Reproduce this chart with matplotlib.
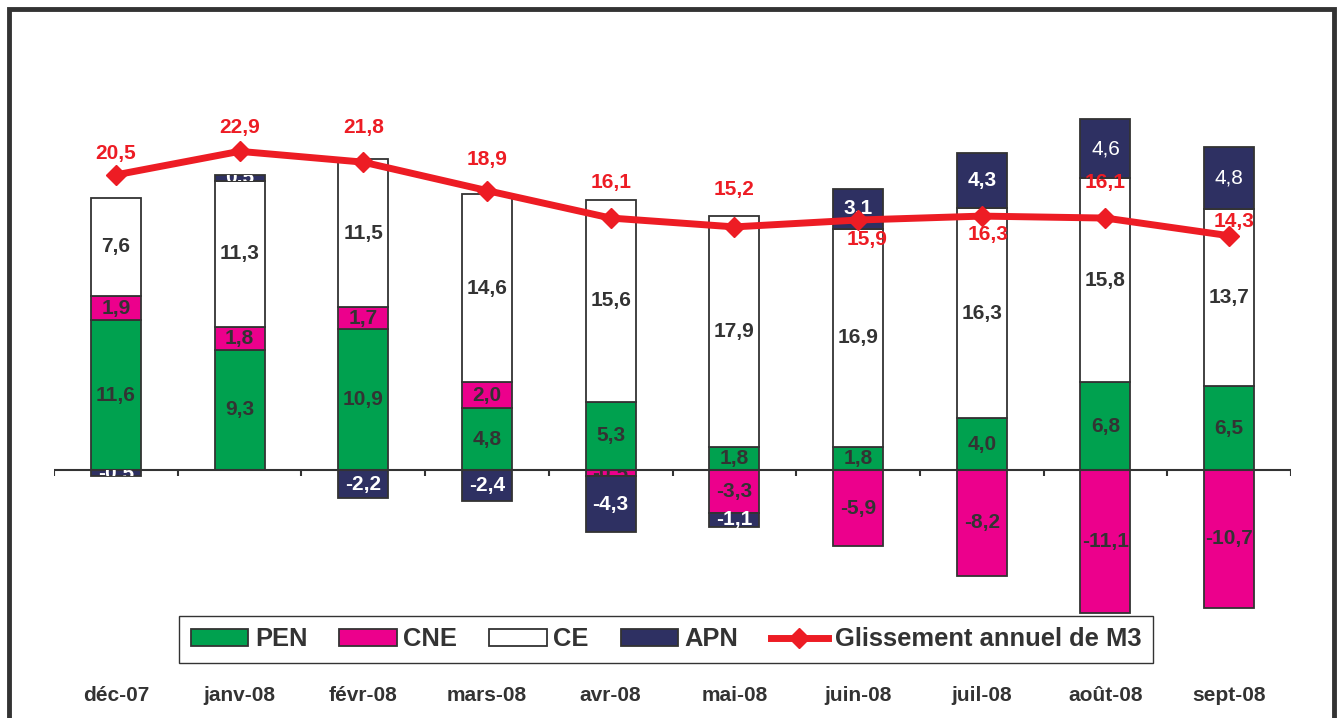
import matplotlib
matplotlib.use('Agg')
import matplotlib.pyplot as plt
from matplotlib.patches import Rectangle, Patch
from matplotlib.lines import Line2D
import numpy as np

plt.rcParams['font.family'] = ['Liberation Sans', 'DejaVu Sans']

# ---------------- data ----------------
months = ['déc-07', 'janv-08', 'févr-08', 'mars-08', 'avr-08',
          'mai-08', 'juin-08', 'juil-08', 'août-08', 'sept-08']
pen = [11.6, 9.3, 10.9, 4.8, 5.3, 1.8, 1.8, 4.0, 6.8, 6.5]
cne = [1.9, 1.8, 1.7, 2.0, -0.5, -3.3, -5.9, -8.2, -11.1, -10.7]
ce = [7.6, 11.3, 11.5, 14.6, 15.6, 17.9, 16.9, 16.3, 15.8, 13.7]
apn = [-0.5, 0.5, -2.2, -2.4, -4.3, -1.1, 3.1, 4.3, 4.6, 4.8]
m3 = [20.5, 22.9, 21.8, 18.9, 16.1, 15.2, 15.9, 16.3, 16.1, 14.3]

# label offsets for the M3 line labels (pixels: dx, dy; dy negative = above)
m3_label_off = [(0, -21), (0, -24), (0, -35), (0, -31), (0, -36),
                (0, -37), (9, 19), (6, 18), (0, -36), (5, -14)]

# ---------------- styles ----------------
C_PEN = '#00A14F'
C_CNE = '#EC008C'
C_CE = '#FFFFFF'
C_APN = '#2E3062'
C_RED = '#ED1C24'
C_DARK = '#333333'

W, H = 1340, 718
fig = plt.figure(figsize=(W / 100, H / 100), dpi=100)
fig.patch.set_facecolor('white')

ax_left, ax_right = 54, 1291
ax_top, ax_bot = 20, 680
ax = fig.add_axes([ax_left / W, (H - ax_bot) / H,
                   (ax_right - ax_left) / W, (ax_bot - ax_top) / H])
ax.set_xlim(-0.5, len(months) - 0.5)
ax.set_ylim(-16.28, 34.88)

x = np.arange(len(months))
bw = 0.404

pos_base = np.zeros(len(months))
neg_base = np.zeros(len(months))
series = [('PEN', pen, C_PEN), ('CNE', cne, C_CNE), ('CE', ce, C_CE), ('APN', apn, C_APN)]
for name, vals, col in series:
    vals = np.array(vals, dtype=float)
    bottoms = np.where(vals >= 0, pos_base, neg_base)
    bars = ax.bar(x, vals, bottom=bottoms, width=bw, color=col,
                  edgecolor=C_DARK, linewidth=1.3, zorder=2)
    for i, (b, v) in enumerate(zip(bars, vals)):
        txt = f"{v:.1f}".replace('.', ',')
        tcol = 'white' if name == 'APN' else C_DARK
        weight = 'normal' if (name == 'APN' and i >= 8) else 'bold'
        t = ax.text(x[i], bottoms[i] + v / 2, txt, ha='center', va='center',
                    fontsize=15, fontweight=weight, color=tcol, zorder=4)
        if abs(v) < 1.0:
            t.set_clip_on(True)
            t.set_clip_path(b)
    pos_base = np.where(vals >= 0, pos_base + vals, pos_base)
    neg_base = np.where(vals < 0, neg_base + vals, neg_base)

# zero axis line and category ticks
ax.axhline(0, color=C_DARK, lw=1.5, zorder=3)
ax.vlines(np.arange(-0.5, len(months)), -0.45, 0, color=C_DARK, lw=1.5, zorder=3)

ax.set_xticks(x)
ax.set_xticklabels(months, fontsize=15, fontweight='bold', color=C_DARK)
ax.tick_params(axis='x', length=0, pad=4)
ax.set_yticks([])
for s in ax.spines.values():
    s.set_visible(False)

# secondary axis for M3 line
ax2 = ax.twinx()
ax2.set_ylim(-30.99, 36.29)
ax2.plot(x, m3, color=C_RED, lw=5, marker='D', markersize=10,
         markeredgecolor=C_RED, zorder=5)
for i, v in enumerate(m3):
    dx, dy = m3_label_off[i]
    ax2.annotate(f"{v:.1f}".replace('.', ','), (x[i], v),
                 xytext=(dx * 0.72, -dy * 0.72), textcoords='offset points',
                 ha='center', va='center', fontsize=15, fontweight='bold',
                 color=C_RED, zorder=6)
ax2.set_yticks([])
for s in ax2.spines.values():
    s.set_visible(False)

# legend
handles = [Patch(facecolor=C_PEN, edgecolor=C_DARK, lw=1.3),
           Patch(facecolor=C_CNE, edgecolor=C_DARK, lw=1.3),
           Patch(facecolor=C_CE, edgecolor=C_DARK, lw=1.3),
           Patch(facecolor=C_APN, edgecolor=C_DARK, lw=1.3),
           Line2D([], [], color=C_RED, lw=5, marker='D', markersize=10)]
labels = ['PEN', 'CNE', 'CE', 'APN', 'Glissement annuel de M3']
leg = fig.legend(handles, labels, loc='center',
                 bbox_to_anchor=(666 / W, (H - 639.5) / H), ncol=5,
                 frameon=True, fancybox=False, shadow=False, framealpha=1,
                 edgecolor=C_DARK, handlelength=2.25, handleheight=0.63,
                 handletextpad=0.26, columnspacing=1.25, borderpad=0.45,
                 prop={'size': 18.4, 'weight': 'bold'})
leg.get_frame().set_linewidth(1.0)
for t in leg.get_texts():
    t.set_color(C_DARK)

# outer frame
fig.patches.append(Rectangle((9 / W, -0.1), (1334 - 9) / W, 1.1 - 9.5 / H,
                             transform=fig.transFigure, fill=False,
                             edgecolor=C_DARK, lw=3.5, zorder=10))

fig.savefig('out.png', dpi=100)
